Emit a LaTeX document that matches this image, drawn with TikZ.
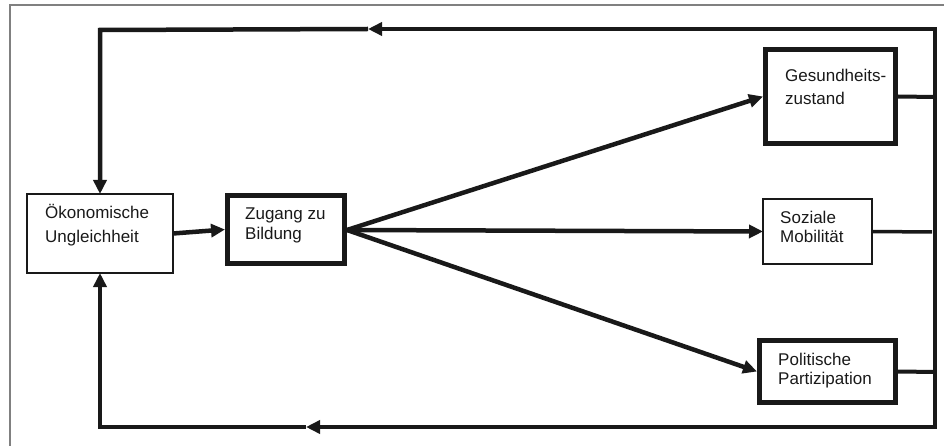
\documentclass[tikz,border=0pt]{standalone}
\usepackage{fontspec}
\setmainfont{Liberation Sans}
\usetikzlibrary{arrows.meta}
\begin{document}
\begin{tikzpicture}[x=1pt,y=-1pt,
  thinbox/.style={draw=black!90,line width=1.3pt,minimum width=#1,inner sep=0pt,outer sep=0pt},
  thickbox/.style={draw=black!90,line width=5pt,inner sep=0pt},
  lbl/.style={anchor=base west,inner sep=0pt,font=\fontsize{17}{20}\selectfont,text=black!90},
  conn/.style={draw=black!90,line width=4.5pt},
  arr/.style={conn,-{Triangle[length=14pt,width=13pt]}},
  frame/.style={draw=black!50,line width=1.5pt}]
\useasboundingbox (0,0) rectangle (944,446);
\draw[frame] (10,446) -- (10,5) -- (944,5);
% boxes
\node[thinbox=146pt,minimum height=79pt] (oek) at (100,233.5) {};
\node[thickbox,minimum width=117pt,minimum height=68pt] (zug) at (286,229.5) {};
\node[thickbox,minimum width=130pt,minimum height=94pt] (ges) at (830.5,96.5) {};
\node[thinbox=109pt,minimum height=65pt] (soz) at (817.5,231.5) {};
\node[thickbox,minimum width=136pt,minimum height=62pt] (pol) at (827.5,371.5) {};
% texts
\node[lbl] (t1) at (45,219) {Ökonomische};
\node[lbl] (t2) at (45,243) {Ungleichheit};
\node[lbl] (t3) at (245,220) {Zugang zu};
\node[lbl] (t4) at (245,240) {Bildung};
\node[lbl] (t5) at (785,82) {Gesundheits-};
\node[lbl] (t6) at (785,105) {zustand};
\node[lbl] (t7) at (780,224) {Soziale};
\node[lbl] (t8) at (780,243) {Mobilität};
\node[lbl] (t9) at (778,365) {Politische};
\node[lbl] (t10) at (778,384) {Partizipation};
% coordinates
\coordinate (rT) at (935,29);
\coordinate (rB) at (935,427);
\coordinate (ta) at (368,29);
\coordinate (tl) at (100,30);
\coordinate (ba) at (306,427);
\coordinate (bl) at (100,427);
\coordinate (gR) at (935,97);
\coordinate (sR) at (932,232);
\coordinate (pR) at (935,372);
\coordinate (zs) at (347,230);
% forward arrows
\draw[arr] (oek.east) -- (zug.west);
\draw[arr] (zs) -- (ges.west);
\draw[arr] (zs) -- (soz.west);
\draw[arr] (zs) -- (pol.west);
% outputs to right bus
\draw[conn,line width=4pt] (ges.east) -- (gR);
\draw[conn,line width=3.5pt] (soz.east) -- (sR);
\draw[conn,line width=4pt] (pol.east) -- (pR);
\draw[conn,line width=3.5pt] (rT) -- (rB);
% feedback top
\draw[arr,shorten <=-1.75pt] (rT) -- (ta);
\draw[arr] (ta) -- (tl) -- (oek.north);
% feedback bottom
\draw[arr,shorten <=-1.75pt] (rB) -- (ba);
\draw[arr] (ba) -- (bl) -- (oek.south);
\end{tikzpicture}
\end{document}
